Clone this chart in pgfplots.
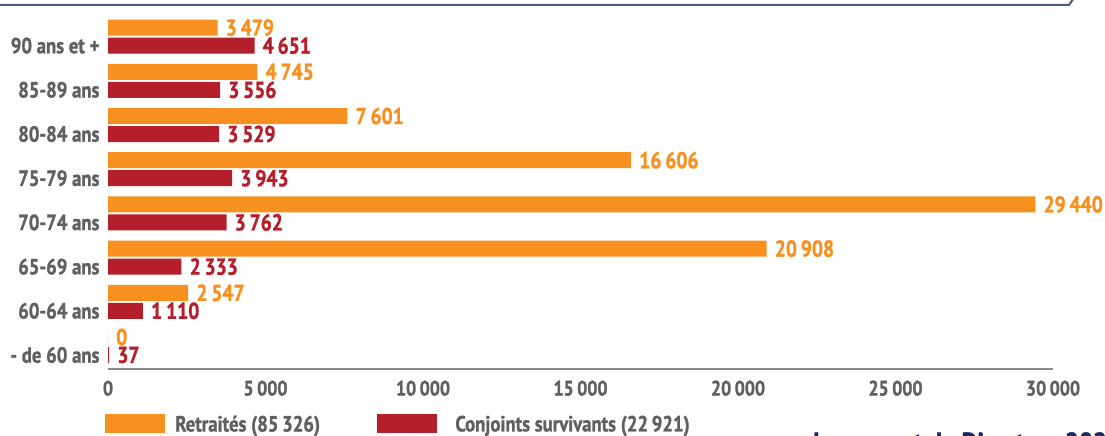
\documentclass[border=0pt]{standalone}
\usepackage{pgfplots}
\pgfplotsset{compat=1.18}
\usepackage{fontspec}
\setmainfont{PT Sans}[FakeStretch=0.85]
\newfontfamily\bfnt{PT Sans}[FakeStretch=0.85, FakeBold=1.2, UprightFont={* Bold}]
\definecolor{orangeR}{HTML}{F7901E}
\definecolor{redC}{HTML}{B51F2C}
\definecolor{grayT}{HTML}{5F6062}
\definecolor{grayL}{HTML}{8A8B8D}
\definecolor{navyL}{HTML}{4F5A85}
\definecolor{navyT}{HTML}{1C2B5E}

\begin{document}
\begin{tikzpicture}[x=1pt,y=1pt]
\useasboundingbox (0,0) rectangle (1105,-436);
% cadre du haut
\draw[navyL, line width=2pt] (-5,-5) -- (1069,-5) -- (1076,5);
\begin{axis}[
    at={(108pt,-369pt)}, anchor=south west,
    scale only axis, width=945pt, height=364pt,
    xmin=0, xmax=30000, ymin=0, ymax=364,
    xbar, bar width=16pt, bar shift=0pt,
    axis x line*=bottom, axis y line*=left,
    x axis line style={draw=grayL, line width=1.5pt, -},
    y axis line style={draw=none},
    major tick length=0pt,
    xtick={0,5000,...,30000},
    scaled x ticks=false,
    ytick={14,58.2,102.4,146.6,190.8,235,279.2,323.4},
    yticklabels={- de 60 ans,60-64 ans,65-69 ans,70-74 ans,75-79 ans,80-84 ans,85-89 ans,90 ans et +},
    /pgf/number format/.cd, 1000 sep={\,}, assume math mode=true, /pgfplots/.cd,
    xticklabel style={font=\bfnt\fontsize{21}{21}\selectfont, text=grayT, yshift=-8pt},
    yticklabel style={font=\bfnt\fontsize{22}{22}\selectfont, text=grayT, xshift=-5pt},
    nodes near coords,
    every node near coord/.append style={font=\bfnt\fontsize{23}{23}\selectfont, anchor=west, inner sep=5pt, xshift=3pt},
    legend columns=2,
    legend image code/.code={\fill[#1] (0pt,-9pt) rectangle (60pt,10pt);},
    legend style={draw=none, fill=none, at={(-0.003,-0.152)}, anchor=west, inner sep=0pt,
        font=\bfnt\fontsize{22}{22}\selectfont, text=grayT,
        /tikz/column 0/.style={column sep=8pt},
        /tikz/column 1/.style={column sep=8pt}},
]
\addplot[fill=orangeR, draw=none, every node near coord/.append style={text=orangeR}] coordinates {
    (0,32) (2547,76.2) (20908,120.4) (29440,164.6)
    (16606,208.8) (7601,253) (4745,297.2) (3479,341.4)
};
\addlegendentry{\makebox[200pt][l]{Retraités (85\,326)}}
\addplot[fill=redC, draw=none, every node near coord/.append style={text=redC}] coordinates {
    (37,14) (1110,58.2) (2333,102.4) (3762,146.6)
    (3943,190.8) (3529,235) (3556,279.2) (4651,323.4)
};
\addlegendentry{\hspace{16pt}Conjoints survivants (22\,921)}
\end{axis}
\node[anchor=north west, text=navyT, font=\bfnt\fontsize{29}{29}\selectfont, inner sep=0pt] at (813,-432) {Le rapport du Directeur 2023};
\end{tikzpicture}
\end{document}
